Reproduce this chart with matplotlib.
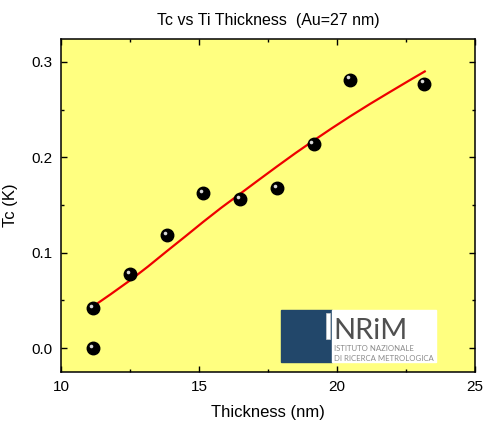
import numpy as np
import matplotlib as mpl
mpl.use('Agg')
import matplotlib.pyplot as plt
import matplotlib.transforms as mtransforms
from matplotlib.patches import Rectangle
from matplotlib.ticker import MultipleLocator

plt.rcParams['font.family'] = ['Liberation Sans', 'DejaVu Sans']

# measured points
thickness = [11.15, 11.15, 12.5, 13.83, 15.16, 16.5, 17.83, 19.15, 20.48, 23.14]
tc = [0.042, 0.0, 0.0776, 0.1186, 0.163, 0.1563, 0.1675, 0.214, 0.2815, 0.2773]

# fitted curve
fit_x = [11.16, 11.8, 12.5, 13.15, 13.83, 14.5, 15.16, 15.8, 16.5, 17.15,
         17.83, 18.5, 19.15, 19.8, 20.48, 21.2, 21.89, 22.6, 23.18]
fit_y = [0.0437, 0.0565, 0.0710, 0.0855, 0.1015, 0.1170, 0.1325, 0.1470, 0.1620, 0.1760,
         0.1905, 0.2045, 0.2175, 0.2302, 0.2430, 0.2560, 0.2680, 0.2802, 0.2900]

title = 'Tc vs Ti Thickness  (Au=27 nm)'
xlabel = 'Thickness (nm)'
ylabel = 'Tc (K)'

fig = plt.figure(figsize=(4.83, 4.23), dpi=100)
ax = fig.add_axes([0.1263, 0.1206, 0.8571, 0.7872])
ax.set_facecolor('#FFFF80')

ax.plot(fit_x, fit_y, color='#EE0000', lw=1.6, zorder=2)
ax.plot(thickness, tc, 'o', color='black', ms=9, mec='black', zorder=3)
hl = mtransforms.offset_copy(ax.transData, fig=fig, x=-1.5, y=1.5, units='points')
ax.plot(thickness, tc, 'o', color='#d8d8d8', ms=2.6, mew=0, transform=hl, zorder=4)

ax.set_xlim(10, 25)
ax.set_ylim(-0.025, 0.324)
ax.xaxis.set_major_locator(MultipleLocator(5))
ax.xaxis.set_minor_locator(MultipleLocator(2.5))
ax.yaxis.set_major_locator(MultipleLocator(0.1))
ax.yaxis.set_minor_locator(MultipleLocator(0.05))
ax.yaxis.set_major_formatter(mpl.ticker.FormatStrFormatter('%.1f'))
ax.tick_params(which='both', direction='in', top=True, right=True, labelsize=11, width=1)
ax.tick_params(which='major', length=4.5, pad=6)
ax.tick_params(which='minor', length=2.5)
for s in ax.spines.values():
    s.set_linewidth(1.1)

ax.set_title(title, fontsize=11.5, pad=10)
ax.set_xlabel(xlabel, fontsize=12, labelpad=8)
ax.set_ylabel(ylabel, fontsize=12, labelpad=10)

# INRiM logo
lt = ax.transAxes
logo_font = ['Liberation Sans Narrow', 'Lato', 'DejaVu Sans']
ax.add_patch(Rectangle((0.531, 0.031), 0.123, 0.155, transform=lt, color='#22476A', zorder=5))
ax.add_patch(Rectangle((0.654, 0.031), 0.252, 0.155, transform=lt, color='white', zorder=5))
ax.add_patch(Rectangle((0.641, 0.099), 0.009, 0.077, transform=lt, facecolor='white',
                       edgecolor='#cccccc', lw=0.5, zorder=6))
ax.text(0.657, 0.099, 'NRiM', transform=lt, fontsize=21, color='#505050', zorder=6,
        family=logo_font, va='baseline', ha='left')
clip = mtransforms.TransformedBbox(mtransforms.Bbox([[0.654, 0.031], [0.906, 0.186]]), lt)
for txt, yy in [('ISTITUTO NAZIONALE', 0.072), ('DI RICERCA METROLOGICA', 0.042)]:
    t = ax.text(0.660, yy, txt, transform=lt, fontsize=5.6, color='#8a8a8a', zorder=6,
                family=logo_font, va='center')
    t.set_clip_box(clip)
    t.set_clip_on(True)

fig.savefig('out.png', dpi=100)
